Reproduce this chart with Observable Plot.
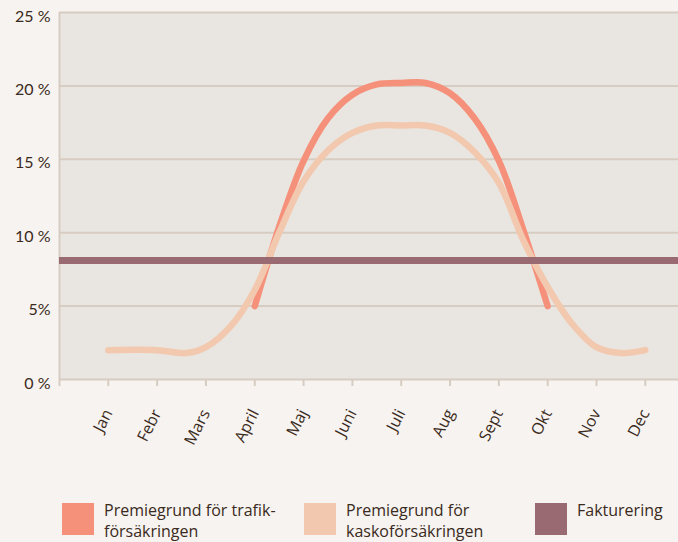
<!DOCTYPE html>
<html>
<head>
<meta charset="utf-8">
<script src="https://cdn.jsdelivr.net/npm/d3@7"></script>
<script src="https://cdn.jsdelivr.net/npm/@observablehq/plot@0.6"></script>
<style>
  html, body { margin: 0; padding: 0; background: #F6F3F0; }
  body { width: 678px; height: 542px; overflow: hidden; font-family: "Open Sans", Lato, sans-serif; color: #3b2a20; }
  #legend { position: relative; height: 42px; }
  .item { position: absolute; top: 0; display: flex; align-items: flex-start; font-size: 16px; line-height: 20.5px; }
  .sw { width: 32px; height: 32px; margin-top: 3px; margin-right: 10px; flex: none; }
</style>
</head>
<body>
<div id="chart"></div>
<div id="legend"></div>
<script>
// ---- data ----
const months = ["Jan","Febr","Mars","April","Maj","Juni","Juli","Aug","Sept","Okt","Nov","Dec"];
const yTicks = [0, 5, 10, 15, 20, 25];
const yLabels = ["0 %", "5%", "10 %", "15 %", "20 %", "25 %"];

// month position (1 = Jan ... 12 = Dec) and premium share in %
const trafikMonth = [4, 4.5, 5, 5.5, 6, 6.5, 7, 7.5, 8, 8.5, 9, 9.5, 10];
const trafikValue = [5.0, 10.4, 14.9, 17.8, 19.4, 20.1, 20.2, 20.2, 19.5, 17.8, 14.9, 10.2, 5.0];

const kaskoMonth = [1, 2, 2.6, 3, 3.5, 4, 4.5, 5, 5.5, 6, 6.5, 7, 7.5, 8, 8.5, 9, 9.5, 10, 10.5, 11, 11.5, 12];
const kaskoValue = [2.0, 2.0, 1.8, 2.2, 3.6, 6.1, 10.0, 13.5, 15.6, 16.8, 17.3, 17.3, 17.3, 16.8, 15.5, 13.4, 9.5, 6.3, 3.8, 2.2, 1.8, 2.0];

const faktureringValue = 8.1;

const seriesNames = ["Premiegrund för trafik-\nförsäkringen", "Premiegrund för\nkaskoförsäkringen", "Fakturering"];
const seriesColors = ["#F5917B", "#F2C8AF", "#9A6A72"];

// ---- build tables ----
const trafik = trafikMonth.map((m, i) => ({month: m, value: trafikValue[i]}));
const kasko = kaskoMonth.map((m, i) => ({month: m, value: kaskoValue[i]}));
const monthTable = months.map((name, i) => ({name, pos: i + 1}));

const W = 678, H = 490;
const grid = "#D7CCC1";

const chart = Plot.plot({
  width: W,
  height: H,
  marginLeft: 59,
  marginRight: 0,
  marginTop: 12,
  marginBottom: H - 379,
  x: {domain: [0, 12.68], label: null},
  y: {domain: [0, 25], label: null},
  style: {background: "transparent", fontFamily: "Lato, 'Open Sans', sans-serif", color: "#3b2a20", overflow: "visible"},
  marks: [
    Plot.frame({fill: "#E9E6E1", stroke: null}),
    Plot.ruleY(yTicks, {stroke: grid, strokeWidth: 2}),
    Plot.ruleX([0], {stroke: grid, strokeWidth: 2}),
    Plot.axisX({ticks: d3.range(0, 13), tickSize: 7, tickFormat: () => "", stroke: grid, strokeWidth: 2, label: null}),
    Plot.axisY({ticks: yTicks, tickSize: 0, tickPadding: 9, fontSize: 16, dy: 4, label: null,
      tickFormat: d => yLabels[yTicks.indexOf(d)]}),
    Plot.line(trafik, {x: "month", y: "value", stroke: seriesColors[0], strokeWidth: 6.5,
      curve: "catmull-rom", strokeLinecap: "round", strokeLinejoin: "round"}),
    Plot.line(kasko, {x: "month", y: "value", stroke: seriesColors[1], strokeWidth: 6.5,
      curve: "catmull-rom", strokeLinecap: "round", strokeLinejoin: "round"}),
    Plot.ruleY([faktureringValue], {stroke: seriesColors[2], strokeWidth: 7}),
    Plot.text(monthTable, {x: "pos", y: () => 0, text: "name", dy: 31, dx: 0, rotate: -63,
      textAnchor: "end", lineAnchor: "middle", fontSize: 16, fontFamily: "'Open Sans', sans-serif", fill: "#3b2a20"})
  ]
});
document.getElementById("chart").appendChild(chart);

// ---- legend ----
const legend = document.getElementById("legend");
legend.style.marginTop = (500 - H) + "px";
const lefts = [62, 304, 535];
seriesNames.forEach((name, i) => {
  const item = document.createElement("div");
  item.className = "item";
  item.style.left = lefts[i] + "px";
  const sw = document.createElement("div");
  sw.className = "sw";
  sw.style.background = seriesColors[i];
  const label = document.createElement("div");
  label.innerHTML = name.split("\n").join("<br>");
  item.appendChild(sw);
  item.appendChild(label);
  legend.appendChild(item);
});
</script>
</body>
</html>
